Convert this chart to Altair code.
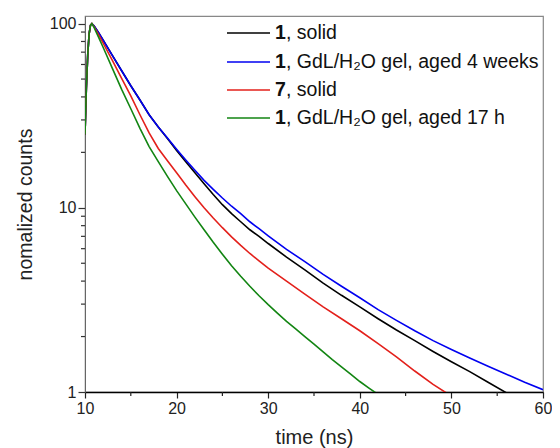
import altair as alt
import pandas as pd

FONT = "Liberation Sans"

# ---- data (time in ns, normalized counts) ----
t_black = [10.0, 10.15, 10.3, 10.45, 10.6, 10.75, 11, 11.5, 12, 13, 14, 15, 16, 17, 18, 19, 20,
           21, 22, 23, 24, 25, 26, 27, 28, 29, 30, 32, 34, 36, 38, 40, 42, 44, 46, 48, 50,
           52, 54, 56, 58, 60]
v_black = [25, 45, 68, 88, 98, 100, 97, 89, 81, 67, 55.5, 46, 38.5, 32, 27.5, 23.8, 20.5,
           17.8, 15.5, 13.5, 11.8, 10.4, 9.3, 8.4, 7.6, 7.0, 6.4, 5.4, 4.6, 3.9, 3.35, 2.9,
           2.5, 2.17, 1.9, 1.66, 1.46, 1.29, 1.13, 0.99, 0.9, 0.85]

t_blue = t_black
v_blue = [25, 45, 68, 88, 98, 100, 97, 89, 81, 67, 55.5, 46, 38.5, 32, 27.5, 23.9, 20.8,
          18.2, 16.0, 14.1, 12.6, 11.3, 10.2, 9.3, 8.4, 7.7, 7.05, 5.95, 5.1, 4.35, 3.75,
          3.25, 2.8, 2.45, 2.15, 1.9, 1.7, 1.53, 1.38, 1.25, 1.13, 1.03]

t_red = [10.0, 10.15, 10.3, 10.45, 10.6, 10.75, 11, 11.5, 12, 13, 14, 15, 16, 17, 18, 19, 20,
         21, 22, 23, 24, 25, 26, 27, 28, 29, 30, 32, 34, 36, 38, 40, 42, 44, 46, 48, 50, 50.5]
v_red = [25, 45, 68, 88, 98, 100, 96, 87, 78, 63, 50.5, 40.5, 32, 25.5, 21, 18, 15.5,
         13.3, 11.5, 10.0, 8.8, 7.8, 6.95, 6.25, 5.65, 5.15, 4.7, 4.0, 3.4, 2.9, 2.5, 2.15,
         1.83, 1.55, 1.3, 1.1, 0.95, 0.92]

t_green = [10.0, 10.15, 10.3, 10.45, 10.6, 10.75, 11, 11.5, 12, 13, 14, 15, 16, 17, 18, 19, 20,
           21, 22, 23, 24, 25, 26, 27, 28, 29, 30, 31, 32, 33, 34, 35, 36, 37, 38, 39, 40,
           41, 42, 42.4]
v_green = [25, 45, 68, 88, 98, 100, 95, 84, 74, 57, 44, 34.5, 27, 21.5, 17.8, 14.8, 12.4,
           10.5, 8.9, 7.6, 6.5, 5.6, 4.85, 4.25, 3.75, 3.33, 2.98, 2.68, 2.42, 2.2, 2.0, 1.82,
           1.65, 1.5, 1.37, 1.25, 1.14, 1.05, 0.97, 0.95]

series_bold = ["1", "1", "7", "1"]
series_rest = [", solid", ", GdL/H\u2082O gel, aged 4 weeks", ", solid", ", GdL/H\u2082O gel, aged 17 h"]
series_colors = ["#000000", "#0000f0", "#e3201b", "#128512"]
series_t = [t_black, t_blue, t_red, t_green]
series_v = [v_black, v_blue, v_red, v_green]

x_ticks = [10, 20, 30, 40, 50, 60]
x_minor = [15, 25, 35, 45, 55]
y_ticks = [1, 10, 100]
y_minor = [2, 3, 4, 5, 6, 7, 8, 9, 20, 30, 40, 50, 60, 70, 80, 90]

W, H = 458, 376

xscale = alt.Scale(domain=[10, 60], nice=False, zero=False)
yscale = alt.Scale(type="log", domain=[1, 110], nice=False)

xaxis = alt.Axis(values=x_ticks, title="time (ns)", grid=False, labelFlush=False, tickSize=6,
                 labelFontSize=16, titleFontSize=20, labelPadding=2,
                 domainColor="#000000", domainWidth=1.5, tickColor="#222222", tickWidth=1.2,
                 titleX=W / 2, titleY=45, titleBaseline="middle", titleFontWeight="normal")
yaxis = alt.Axis(values=y_ticks, format="d", title="nomalized counts", grid=False, labelFlush=False,
                 tickSize=7, labelFontSize=16, titleFontSize=19.5, labelPadding=2,
                 domainColor="#666666", tickColor="#333333", tickWidth=1.2,
                 titleX=-60, titleY=H / 2, titleBaseline="middle", titleFontWeight="normal")

layers = []
for i in range(4):
    df = pd.DataFrame({"t": series_t[i], "v": series_v[i]})
    layers.append(alt.Chart(df).mark_line(color=series_colors[i], strokeWidth=1.6, clip=True).encode(
        x=alt.X("t:Q", scale=xscale, axis=xaxis),
        y=alt.Y("v:Q", scale=yscale, axis=yaxis),
    ))

# minor ticks (through the shared scales)
layers.append(alt.Chart(pd.DataFrame({"v": y_minor})).mark_rule(color="#333333", strokeWidth=1.2).encode(
    y=alt.Y("v:Q", scale=yscale, axis=yaxis), x=alt.value(-4), x2=alt.value(0)))
layers.append(alt.Chart(pd.DataFrame({"t": x_minor})).mark_rule(color="#222222", strokeWidth=1.2).encode(
    x=alt.X("t:Q", scale=xscale, axis=xaxis), y=alt.value(H), y2=alt.value(H + 4)))

# manual legend
row_y = [17, 46, 74, 102]
for i in range(4):
    d = pd.DataFrame({"b": [series_bold[i]], "r": [series_rest[i]]})
    base = alt.Chart(d)
    layers.append(base.mark_rule(color=series_colors[i], strokeWidth=1.5).encode(
        x=alt.value(142), x2=alt.value(185), y=alt.value(row_y[i])))
    layers.append(base.mark_text(align="left", baseline="middle", font=FONT, fontSize=19.5,
                                 fontWeight="bold", color="#111111").encode(
        text="b:N", x=alt.value(190), y=alt.value(row_y[i])))
    layers.append(base.mark_text(align="left", baseline="middle", font=FONT, fontSize=19.5,
                                 color="#111111").encode(
        text="r:N", x=alt.value(201), y=alt.value(row_y[i])))

chart = alt.layer(*layers).properties(
    width=W, height=H,
    autosize=alt.AutoSizeParams(type="none"),
    padding={"left": 77, "top": 8, "right": 9, "bottom": 56},
).configure_view(stroke="#888888", strokeWidth=1.2).configure_axis(
    labelFont=FONT, titleFont=FONT, labelColor="#222222", titleColor="#222222"
)

chart.save("out.html", embed_options={"renderer": "svg", "actions": False})
